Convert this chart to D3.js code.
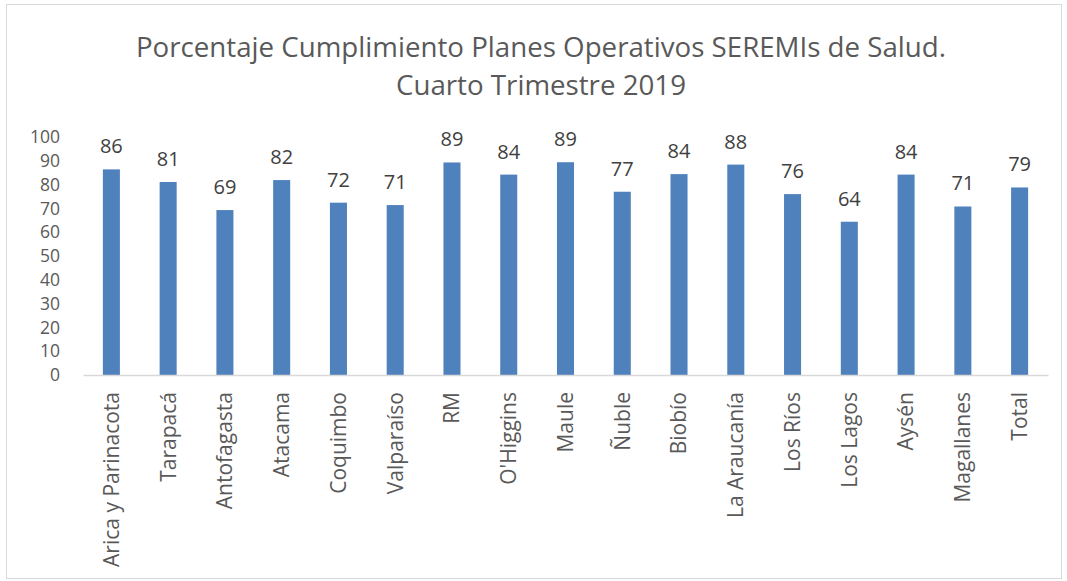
<!DOCTYPE html>
<html>
<head>
<meta charset="utf-8">
<script src="https://cdn.jsdelivr.net/npm/d3@7"></script>
<style>
  body { margin: 0; background: #fff; }
  svg { display: block; }
  svg text { font-family: "Open Sans", "Noto Sans", sans-serif; }
</style>
</head>
<body>
<div id="chart"></div>
<script>
// Cumplimiento por SEREMI, cuarto trimestre 2019
const regions = ['Arica y Parinacota', 'Tarapacá', 'Antofagasta', 'Atacama', 'Coquimbo',
  'Valparaíso', 'RM', "O'Higgins", 'Maule', 'Ñuble', 'Biobío', 'La Araucanía',
  'Los Ríos', 'Los Lagos', 'Aysén', 'Magallanes', 'Total'];
const values = [86.4, 81.1, 69.3, 81.9, 72.4, 71.4, 89.3, 84.2, 89.4, 77.0, 84.4, 88.4,
  76.0, 64.4, 84.2, 70.8, 78.8];
const labels = ['86', '81', '69', '82', '72', '71', '89', '84', '89', '77', '84', '88',
  '76', '64', '84', '71', '79'];
const yTicks = [0, 10, 20, 30, 40, 50, 60, 70, 80, 90, 100];
const titleLines = ['Porcentaje Cumplimiento Planes Operativos SEREMIs de Salud.', 'Cuarto Trimestre 2019'];

const width = 1067, height = 581;
const svg = d3.select('#chart').append('svg')
  .attr('width', width)
  .attr('height', height);

// chart frame
svg.append('rect')
  .attr('x', 6.5).attr('y', 4.5)
  .attr('width', 1055).attr('height', 574)
  .attr('fill', '#fff')
  .attr('stroke', '#d9d9d9');

const x = d3.scaleBand()
  .domain(regions)
  .range([83, 1048])
  .paddingInner(0.7)
  .paddingOuter(0.35);

const y = d3.scaleLinear()
  .domain([0, 100])
  .range([375, 137]);

// title
svg.append('g').selectAll('text')
  .data(titleLines)
  .join('text')
  .attr('x', 541)
  .attr('y', (d, i) => 57 + i * 38)
  .attr('text-anchor', 'middle')
  .attr('fill', '#595959')
  .style('font-size', '27.7px')
  .text(d => d);

// y axis labels only (tight spacing, keep font small enough not to collide)
const yAxis = svg.append('g')
  .attr('transform', 'translate(60,0)')
  .call(d3.axisLeft(y).tickValues(yTicks).tickSize(0).tickPadding(0))
  .attr('font-family', null)
  .attr('font-size', null);
yAxis.select('.domain').remove();
yAxis.selectAll('text')
  .attr('fill', '#595959')
  .style('font-size', '17.5px');

// bars
svg.append('g').selectAll('rect')
  .data(values)
  .join('rect')
  .attr('x', (d, i) => x(regions[i]))
  .attr('y', d => y(d))
  .attr('width', x.bandwidth())
  .attr('height', d => y(0) - y(d))
  .attr('fill', '#4f81bd');

// data labels
svg.append('g').selectAll('text')
  .data(values)
  .join('text')
  .attr('x', (d, i) => x(regions[i]) + x.bandwidth() / 2)
  .attr('y', d => y(d) - 16)
  .attr('text-anchor', 'middle')
  .attr('fill', '#404040')
  .style('font-size', '20px')
  .text((d, i) => labels[i]);

// x axis
const xAxis = svg.append('g')
  .attr('transform', `translate(0,${y(0)})`)
  .call(d3.axisBottom(x).tickSize(0).tickPadding(0))
  .attr('font-family', null)
  .attr('font-size', null);
xAxis.select('.domain')
  .attr('stroke', '#d9d9d9')
  .attr('stroke-width', 1.5);
xAxis.selectAll('text')
  .attr('fill', '#595959')
  .style('font-size', '21px')
  .attr('text-anchor', 'end')
  .attr('dy', '0.35em')
  .attr('transform', 'translate(0,17) rotate(-90)');
</script>
</body>
</html>
